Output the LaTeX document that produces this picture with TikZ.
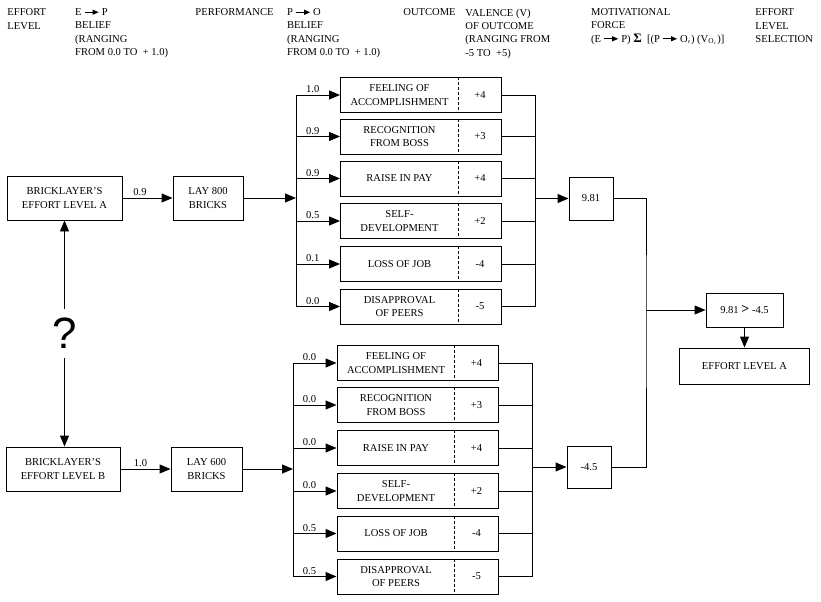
\documentclass[tikz,border=0pt]{standalone}
\usepackage{fontspec}
\setmainfont{Liberation Serif}
\usetikzlibrary{arrows.meta}
\newcommand\parr{\tikz[baseline=-3.4pt]\draw[line width=0.9pt,-{Triangle[length=6pt,width=5pt]}] (0pt,0pt) -- (14pt,0pt);}

\begin{document}
\begin{tikzpicture}[x=1bp,y=-1bp,>={Triangle[length=11bp,width=9bp]},line width=0.95bp,
  font=\fontsize{10.6}{13.3}\selectfont,
  box/.style={draw,align=center,inner sep=0pt,minimum height=44bp},
  outbox/.style={draw,inner sep=0pt,minimum height=35bp},
  hd/.style={anchor=north west,align=left,inner sep=0pt},
  lbl/.style={above,inner sep=1.5bp,pos=0.38}]
\useasboundingbox (0,0) rectangle (821,602);
\node[hd] (h1) at (7,8.5) {EFFORT\\LEVEL};
\node[hd] (h2) at (75,8.5) {E \parr\ P\\BELIEF\\(RANGING\\FROM 0.0 TO \ + 1.0)};
\node[hd] (h3) at (195,8.5) {PERFORMANCE};
\node[hd] (h4) at (287,8.5) {P \parr\ O\\BELIEF\\(RANGING\\FROM 0.0 TO \ + 1.0)};
\node[hd] (h5) at (403,8.5) {OUTCOME};
\node[hd] (h6) at (465,8.5) {VALENCE (V)\\OF OUTCOME\\(RANGING FROM\\-5 TO \ +5)};
\node[hd] (h7) at (591,8.5) {MOTIVATIONAL\\FORCE\\(E \parr\ P) {\fontsize{13}{13}\selectfont\textbf{Σ}} \ [(P \parr\ O$_i$) (V$_{\mathrm{O}_i}$)]};
\node[hd] (h8) at (755,8.5) {EFFORT\\LEVEL\\SELECTION};

\coordinate (busa) at (296,0);
\coordinate (rbusa) at (535,0);
\coordinate (busb) at (293,0);
\coordinate (rbusb) at (532,0);

\node[box,minimum width=115bp] (ea) at (64.5,198) {BRICKLAYER'S\\EFFORT LEVEL A};
\node[box,minimum width=70bp] (la) at (208,198) {LAY 800\\BRICKS};
\node[box,minimum width=114bp] (eb) at (63,469) {BRICKLAYER'S\\EFFORT LEVEL B};
\node[box,minimum width=71bp] (lb) at (206.5,469) {LAY 600\\BRICKS};
\node[inner ysep=9bp,inner xsep=2bp,font=\fontspec{Liberation Sans}\fontsize{44}{44}\selectfont] (q) at (64.5,333.5) {?};
\draw[->] (q) -- (q |- ea.south);
\draw[->] (q) -- (q |- eb.north);
\draw[->] (ea) -- node[lbl,pos=0.35]{0.9} (la);
\draw[->] (eb) -- node[lbl,pos=0.4]{1.0} (lb);
\draw[->] (la) -- (la -| busa);
\draw[->] (lb) -- (lb -| busb);

\foreach \i/\y/\nm/\p/\v in {1/95/{FEELING OF\\ACCOMPLISHMENT}/1.0/+4,2/136.5/{RECOGNITION\\FROM BOSS}/0.9/+3,3/178.5/RAISE IN PAY/0.9/+4,4/221/{SELF-\\DEVELOPMENT}/0.5/+2,5/264/LOSS OF JOB/0.1/-4,6/306.5/{DISAPPROVAL\\OF PEERS}/0.0/-5}{
  \node[outbox] (oa\i) at (421,\y) {\parbox{118bp}{\centering \nm}\parbox{43bp}{\centering \v}};
  \draw[dash pattern=on 3bp off 2bp] ([xshift=118bp]oa\i.north west) -- ([xshift=118bp]oa\i.south west);
  \draw[->] (oa\i -| busa) -- node[lbl]{\p} (oa\i);
  \draw (oa\i) -- (oa\i -| rbusa);
}
\foreach \i/\y/\nm/\p/\v in {1/363/{FEELING OF\\ACCOMPLISHMENT}/0.0/+4,2/405/{RECOGNITION\\FROM BOSS}/0.0/+3,3/448/RAISE IN PAY/0.0/+4,4/491/{SELF-\\DEVELOPMENT}/0.0/+2,5/533.5/LOSS OF JOB/0.5/-4,6/576.5/{DISAPPROVAL\\OF PEERS}/0.5/-5}{
  \node[outbox] (ob\i) at (417.5,\y) {\parbox{118bp}{\centering \nm}\parbox{43bp}{\centering \v}};
  \draw[dash pattern=on 3bp off 2bp] ([xshift=118bp]ob\i.north west) -- ([xshift=118bp]ob\i.south west);
  \draw[->] (ob\i -| busb) -- node[lbl]{\p} (ob\i);
  \draw (ob\i) -- (ob\i -| rbusb);
}
\draw (oa1 -| busa) -- (oa6 -| busa);
\draw (oa1 -| rbusa) -- (oa6 -| rbusa);
\draw (ob1 -| busb) -- (ob6 -| busb);
\draw (ob1 -| rbusb) -- (ob6 -| rbusb);

\node[box,minimum width=44bp,minimum height=43bp] (fa) at (591,198.5) {9.81};
\node[box,minimum width=44bp,minimum height=42bp] (fb) at (589,467) {-4.5};
\coordinate (jn) at (646,310);
\node[box,minimum width=77bp,minimum height=34bp] (cmp) at (744.5,310) {9.81 {\fontsize{14}{14}\selectfont\textbf{>}} -4.5};
\node[box,minimum width=130bp,minimum height=36bp] (res) at (744.5,366) {EFFORT LEVEL A};
\draw[->] (rbusa |- fa) -- (fa);
\draw[->] (rbusb |- fb) -- (fb);
\draw (fa) -| (jn) |- (fb);
\draw[->] (jn) -- (cmp);
\draw[->] (cmp) -- (res);
\end{tikzpicture}
\end{document}
